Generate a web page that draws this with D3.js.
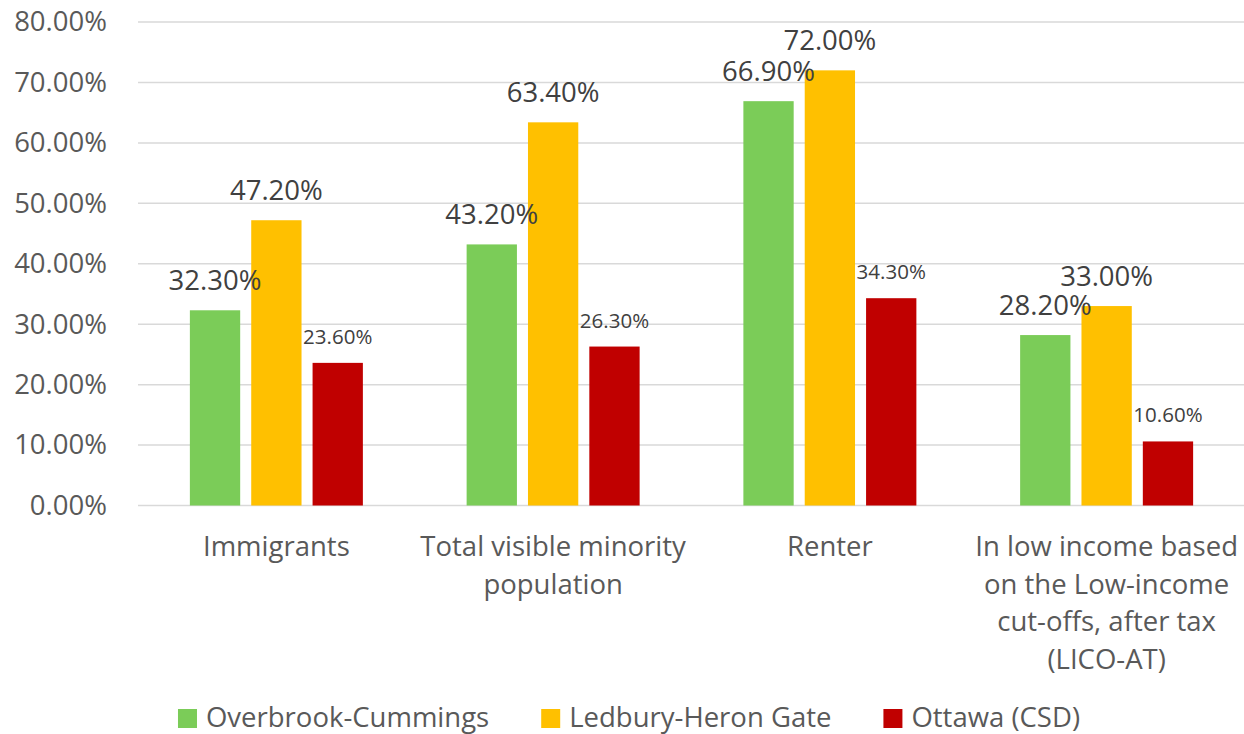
<!DOCTYPE html>
<html lang="en">
<head>
    <meta charset="UTF-8">
    <title>Immigrants, visible minority, renters and low income</title>
    <style>
        body {
            margin: 0;
            padding: 0;
            background: #fff;
            font-family: "Open Sans", sans-serif;
        }
    </style>
</head>
<body>
    <div id="chart"></div>

    <script src="https://cdn.jsdelivr.net/npm/d3@7"></script>
    <script>
        // chart data
        var categories = ["Immigrants", "Total visible minority population", "Renter",
            "In low income based on the Low-income cut-offs, after tax (LICO-AT)"];
        var categoryLines = [
            ["Immigrants"],
            ["Total visible minority", "population"],
            ["Renter"],
            ["In low income based", "on the Low-income", "cut-offs, after tax", "(LICO-AT)"]
        ];
        var seriesNames = ["Overbrook-Cummings", "Ledbury-Heron Gate", "Ottawa (CSD)"];
        var overbrook = [0.323, 0.432, 0.669, 0.282];
        var ledbury = [0.472, 0.634, 0.720, 0.330];
        var ottawa = [0.236, 0.263, 0.343, 0.106];
        var yTicks = [0, 0.1, 0.2, 0.3, 0.4, 0.5, 0.6, 0.7, 0.8];

        var seriesColors = ["#7bcc58", "#ffc000", "#c00000"];
        var seriesValues = [overbrook, ledbury, ottawa];
        var labelSizes = [27.5, 27.5, 20.5]; // the Ottawa labels are smaller

        var svgWidth = 1244, svgHeight = 734;
        var fmt = d3.format(".2%");

        var svg = d3.select("#chart").append("svg")
            .attr("width", svgWidth)
            .attr("height", svgHeight);

        var x = d3.scaleBand()
            .domain(categories)
            .range([138, 1245])
            .paddingInner(0.335)
            .paddingOuter(0.1675);

        var xSub = d3.scaleBand()
            .domain(seriesNames)
            .range([0, x.bandwidth()])
            .paddingInner(0.18)
            .paddingOuter(0.09);

        var y = d3.scaleLinear()
            .domain([0, 0.8])
            .range([505.5, 22]);

        // gridlines
        svg.append("g")
            .selectAll("line")
            .data(yTicks)
            .enter().append("line")
            .attr("x1", 138)
            .attr("x2", svgWidth)
            .attr("y1", d => y(d))
            .attr("y2", d => y(d))
            .attr("stroke", "#d9d9d9")
            .attr("stroke-width", 1.5);

        // y axis labels
        var yAxis = svg.append("g")
            .attr("transform", "translate(107,0)")
            .call(d3.axisLeft(y).tickValues(yTicks).tickFormat(fmt).tickSize(0).tickPadding(0));
        yAxis.select(".domain").remove();
        yAxis.selectAll("text")
            .attr("font-family", "'Open Sans', sans-serif")
            .attr("font-size", "27.5px")
            .attr("fill", "#595959");

        // bars
        var rows = [];
        categories.forEach(function(c, i) {
            seriesNames.forEach(function(s, j) {
                rows.push({ cat: c, series: s, value: seriesValues[j][i], idx: j });
            });
        });

        svg.append("g")
            .selectAll("rect")
            .data(rows)
            .enter().append("rect")
            .attr("x", d => x(d.cat) + xSub(d.series))
            .attr("width", xSub.bandwidth())
            .attr("y", d => y(d.value))
            .attr("height", d => y(0) - y(d.value))
            .attr("fill", d => seriesColors[d.idx]);

        // value labels
        svg.append("g")
            .selectAll("text")
            .data(rows)
            .enter().append("text")
            .attr("x", d => x(d.cat) + xSub(d.series) + xSub.bandwidth() / 2)
            .attr("y", d => y(d.value) - (d.idx === 2 ? 19 : 20))
            .attr("text-anchor", "middle")
            .attr("font-size", d => labelSizes[d.idx] + "px")
            .attr("fill", "#404040")
            .text(d => fmt(d.value));

        // category labels
        var catG = svg.append("g")
            .selectAll("text")
            .data(categories)
            .enter().append("text")
            .attr("x", d => x(d) + x.bandwidth() / 2)
            .attr("y", y(0) + 50.5)
            .attr("text-anchor", "middle")
            .attr("font-size", "27.5px")
            .attr("fill", "#595959");
        catG.selectAll("tspan")
            .data((d, i) => categoryLines[i])
            .enter().append("tspan")
            .attr("x", function() { return this.parentNode.getAttribute("x"); })
            .attr("dy", (d, i) => i === 0 ? 0 : 37.5)
            .text(d => d);

        // legend
        var legend = svg.append("g");
        var entries = legend.selectAll("g")
            .data(seriesNames)
            .enter().append("g");
        entries.append("rect")
            .attr("width", 19)
            .attr("height", 19)
            .attr("y", 709)
            .attr("fill", (d, i) => seriesColors[i]);
        entries.append("text")
            .attr("x", 28)
            .attr("y", 727)
            .attr("font-size", "27.5px")
            .attr("fill", "#595959")
            .text(d => d);

        var offset = 0;
        var widths = [];
        entries.each(function() {
            widths.push(28 + this.querySelector("text").getComputedTextLength());
        });
        var total = d3.sum(widths) + 52 * (widths.length - 1);
        offset = 629 - total / 2;
        entries.attr("transform", function(d, i) {
            var t = "translate(" + offset + ",0)";
            offset += widths[i] + 52;
            return t;
        });
    </script>
</body>
</html>
